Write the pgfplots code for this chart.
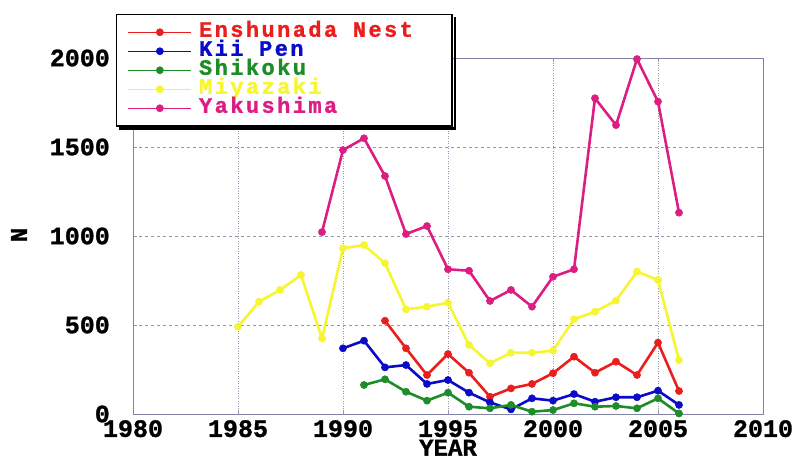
\documentclass[border=0pt]{standalone}
\usepackage{fontspec}
\newfontfamily\chartfont{Liberation Mono}[BoldFeatures={FakeBold=1.2}]
\newfontfamily\legfont{Liberation Mono}[BoldFeatures={FakeBold=1.2, LetterSpace=11}]
\usepackage{pgfplots}
\pgfplotsset{compat=1.18}
\definecolor{cred}{RGB}{235,30,30}
\definecolor{cblue}{RGB}{10,10,200}
\definecolor{cgreen}{RGB}{30,140,40}
\definecolor{cyellow}{RGB}{245,245,50}
\definecolor{cmag}{RGB}{220,30,130}
\definecolor{axgray}{RGB}{130,130,165}
\definecolor{gridgray}{RGB}{150,150,170}
\begin{document}
\begin{tikzpicture}
\useasboundingbox (0,0) rectangle (792pt,459pt);
\begin{axis}[
  at={(133pt,45pt)}, anchor=south west,
  scale only axis, width=630pt, height=356pt,
  xmin=1980, xmax=2010, ymin=0, ymax=2000,
  xtick={1980,1985,...,2010}, ytick={0,500,...,2000},
  /pgf/number format/1000 sep={},
  /pgf/number format/assume math mode=true,
  ticklabel style={font=\chartfont\bfseries\fontsize{25}{25}\selectfont, inner sep=0pt},
  xticklabel style={anchor=north, yshift=-6pt},
  yticklabel style={anchor=east, xshift=-23pt},
  tick align=inside, major tick length=4pt,
  tick style={draw=gridgray, line width=0.8pt},
  axis line style={draw=axgray, line width=1pt},
  grid=major,
  every axis y grid/.append style={draw=gridgray, line width=0.9pt, dash pattern=on 3pt off 3pt},
  every axis x grid/.append style={draw=gridgray, line width=1pt, dash pattern=on 1pt off 1.5pt},
  xlabel={YEAR}, ylabel={N},
  label style={font=\chartfont\bfseries\fontsize{24}{24}\selectfont},
  xlabel style={at={(axis description cs:0.5,-0.077)}, anchor=north, inner sep=0pt, text height=14pt, text depth=0pt},
  ylabel style={at={(axis description cs:-0.181,0.503)}, anchor=center, inner sep=0pt},
  legend style={name=leg, at={(axis description cs:-0.027,1.1236)}, anchor=north west,
    draw=black, line width=1.5pt, fill=white,
    font=\legfont\bfseries\fontsize{22}{19}\selectfont,
    cells={anchor=west}, inner xsep=11pt, inner ysep=8pt, row sep=0pt,
    nodes={inner sep=0pt, text height=14pt, text depth=5pt}},
  legend image code/.code={\draw[mark repeat=2,mark phase=2] plot coordinates {(0pt,0pt) (31.5pt,0pt) (63pt,0pt)};},
  legend image post style={line width=1.3pt},
  every axis plot/.append style={line width=2.6pt, mark=*, mark size=3.6pt, mark options={solid, line width=0.5pt}},
]
\addplot[color=cred] coordinates {(1992,524)(1993,369)(1994,219)(1995,337)(1996,232)(1997,97)(1998,144)(1999,169)(2000,229)(2001,322)(2002,232)(2003,294)(2004,219)(2005,401)(2006,129)};
\addlegendentry{\hspace{7pt}\makebox[242pt][l]{\textcolor{cred}{Enshunada Nest}}}
\addplot[color=cblue] coordinates {(1990,369)(1991,412)(1992,262)(1993,275)(1994,169)(1995,191)(1996,120)(1997,65)(1998,26)(1999,88)(2000,75)(2001,112)(2002,69)(2003,94)(2004,94)(2005,131)(2006,51)};
\addlegendentry{\hspace{7pt}\textcolor{cblue}{Kii Pen}}
\addplot[color=cgreen] coordinates {(1991,163)(1992,195)(1993,125)(1994,75)(1995,120)(1996,41)(1997,32)(1998,51)(1999,13)(2000,22)(2001,60)(2002,41)(2003,45)(2004,32)(2005,88)(2006,3)};
\addlegendentry{\hspace{7pt}\textcolor{cgreen}{Shikoku}}
\addplot[color=cyellow] coordinates {(1985,490)(1986,631)(1987,697)(1988,781)(1989,425)(1990,931)(1991,949)(1992,847)(1993,588)(1994,603)(1995,625)(1996,388)(1997,285)(1998,344)(1999,344)(2000,356)(2001,532)(2002,575)(2003,637)(2004,800)(2005,753)(2006,303)};
\addlegendentry{\hspace{7pt}\textcolor{cyellow}{Miyazaki}}
\addplot[color=cmag] coordinates {(1989,1022)(1990,1483)(1991,1549)(1992,1337)(1993,1011)(1994,1056)(1995,813)(1996,805)(1997,635)(1998,697)(1999,603)(2000,771)(2001,813)(2002,1774)(2003,1623)(2004,1994)(2005,1755)(2006,1131)};
\addlegendentry{\hspace{7pt}\textcolor{cmag}{Yakushima}}
\end{axis}
\fill[black] ([shift={(0.75pt,-3pt)}]leg.north east) rectangle ([shift={(3.5pt,-3.5pt)}]leg.south east);
\fill[black] ([shift={(3pt,-0.75pt)}]leg.south west) rectangle ([shift={(3.5pt,-3.5pt)}]leg.south east);
\end{tikzpicture}
\end{document}
